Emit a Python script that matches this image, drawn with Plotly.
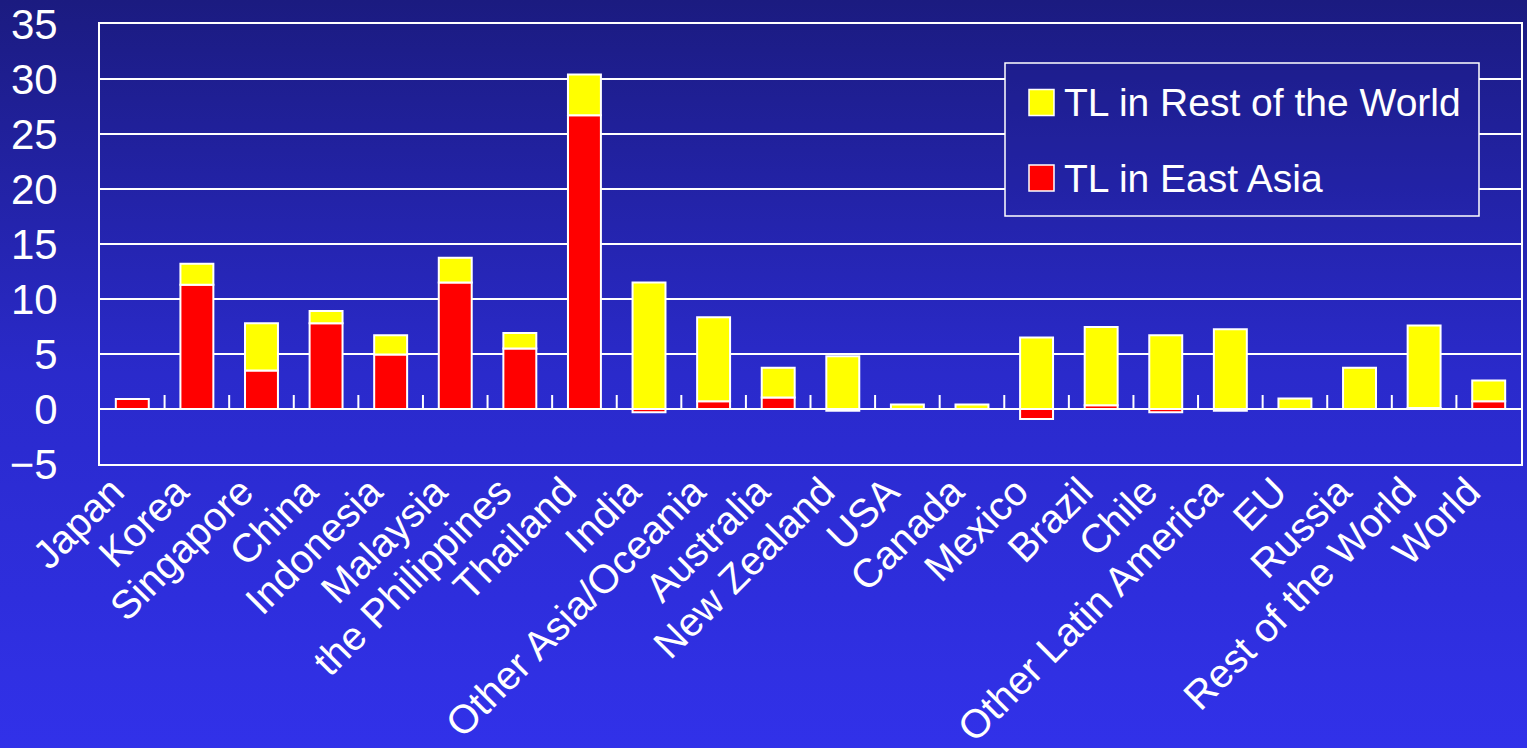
import base64
import plotly.graph_objects as go

# ---- data -------------------------------------------------------------
countries = [
    "Japan", "Korea", "Singapore", "China", "Indonesia", "Malaysia",
    "the Philippines", "Thailand", "India", "Other Asia/Oceania", "Australia",
    "New Zealand", "USA", "Canada", "Mexico", "Brazil", "Chile",
    "Other Latin America", "EU", "Russia", "Rest of the World", "World",
]
tl_east_asia = [0.9, 11.3, 3.5, 7.8, 4.95, 11.5, 5.5, 26.7, -0.3, 0.7, 1.05,
                -0.15, 0.0, 0.0, -0.9, 0.35, -0.3, -0.15, 0.0, 0.0, 0.1, 0.7]
tl_rest_world = [0.0, 1.9, 4.3, 1.1, 1.75, 2.25, 1.4, 3.7, 11.5, 7.65, 2.7,
                 4.8, 0.4, 0.4, 6.5, 7.1, 6.7, 7.25, 0.95, 3.75, 7.5, 1.9]
series_names = ["TL in Rest of the World", "TL in East Asia"]
y_ticks = [-5, 0, 5, 10, 15, 20, 25, 30, 35]

# ---- geometry / style -------------------------------------------------
W, H = 1527, 748
ML, MR, MT, MB = 100, 6, 24, 284
PW, PH = W - ML - MR, H - MT - MB
FONT = "Liberation Sans, Arial, Helvetica, sans-serif"
YELLOW, RED, WHITE = "#ffff00", "#ff0000", "#ffffff"
STOPS = [(0.0, (27, 27, 128)), (0.5, (42, 42, 203)), (1.0, (49, 49, 233))]


def px_x(p):
    return (p - ML) / PW


def px_y(p):
    return (H - MB - p) / PH


def color_at(f):
    for (o0, c0), (o1, c1) in zip(STOPS, STOPS[1:]):
        if o0 <= f <= o1:
            t = (f - o0) / (o1 - o0)
            return tuple(round(a + (b - a) * t) for a, b in zip(c0, c1))
    return STOPS[-1][1]


def gradient_uri(f_top, f_bot):
    stops = []
    for k in range(11):
        f = f_top + (f_bot - f_top) * k / 10
        r, g, b = color_at(f)
        stops.append(f'<stop offset="{k / 10:.2f}" stop-color="rgb({r},{g},{b})"/>')
    svg = ('<svg xmlns="http://www.w3.org/2000/svg" width="10" height="100" '
           'viewBox="0 0 10 100" preserveAspectRatio="none"><defs>'
           '<linearGradient id="g" x1="0" y1="0" x2="0" y2="1">'
           + "".join(stops) +
           '</linearGradient></defs><rect width="10" height="100" fill="url(#g)"/></svg>')
    return "data:image/svg+xml;base64," + base64.b64encode(svg.encode()).decode()


# ---- traces -----------------------------------------------------------
fig = go.Figure()
fig.add_trace(go.Bar(
    x=countries, y=tl_east_asia, name=series_names[1],
    marker=dict(color=RED, line=dict(color=WHITE, width=2)),
))
fig.add_trace(go.Bar(
    x=countries, y=tl_rest_world, name=series_names[0],
    marker=dict(color=YELLOW, line=dict(color=WHITE, width=2)),
))

# ---- background gradient + legend box fill ----------------------------
images = [
    dict(source=gradient_uri(0, 1), xref="paper", yref="paper",
         x=px_x(0), y=px_y(0), sizex=W / PW, sizey=H / PH,
         xanchor="left", yanchor="top", sizing="stretch", layer="below"),
]
LEG_X0, LEG_X1, LEG_Y0, LEG_Y1 = 1005, 1479, 63, 216
images.append(dict(
    source=gradient_uri(LEG_Y0 / H, LEG_Y1 / H), xref="paper", yref="paper",
    x=px_x(LEG_X0), y=px_y(LEG_Y0), sizex=(LEG_X1 - LEG_X0) / PW,
    sizey=(LEG_Y1 - LEG_Y0) / PH, xanchor="left", yanchor="top",
    sizing="stretch", layer="above"))

shapes = []
# small category-boundary ticks rising from the zero line
for i in range(len(countries) - 1):
    shapes.append(dict(type="line", xref="x", yref="y", ysizemode="pixel",
                       yanchor=0, x0=i + 0.5, x1=i + 0.5, y0=0, y1=14,
                       line=dict(color=WHITE, width=2), layer="above"))

# legend frame, swatches and labels
shapes.append(dict(type="rect", xref="paper", yref="paper",
                   x0=px_x(LEG_X0), x1=px_x(LEG_X1), y0=px_y(LEG_Y1), y1=px_y(LEG_Y0),
                   line=dict(color=WHITE, width=1.5), fillcolor="rgba(0,0,0,0)",
                   layer="above"))
annotations = []
for name, col, cy in [(series_names[0], YELLOW, 102.5), (series_names[1], RED, 178)]:
    shapes.append(dict(type="rect", xref="paper", yref="paper",
                       x0=px_x(1029), x1=px_x(1054), y0=px_y(cy + 13), y1=px_y(cy - 13),
                       fillcolor=col, line=dict(color=WHITE, width=1.5), layer="above"))
    annotations.append(dict(text=name, xref="paper", yref="paper",
                            x=px_x(1062), y=px_y(cy), xanchor="left", yanchor="middle",
                            showarrow=False, font=dict(family=FONT, size=39, color=WHITE)))

fig.update_layout(
    width=W, height=H, autosize=False,
    margin=dict(l=ML, r=MR, t=MT, b=MB, pad=0, autoexpand=False),
    paper_bgcolor="rgb(38,38,180)", plot_bgcolor="rgba(0,0,0,0)",
    barmode="relative", bargap=0.49, showlegend=False,
    font=dict(family=FONT, color=WHITE),
    images=images, shapes=shapes, annotations=annotations,
    xaxis=dict(
        type="category", range=[-0.5, len(countries) - 0.5],
        showline=True, linecolor=WHITE, linewidth=2, mirror=True,
        showgrid=False, ticks="", tickangle=-45, automargin=False,
        ticklabelstandoff=-14, ticklabelshift=-20,
        tickfont=dict(family=FONT, size=40, color=WHITE),
    ),
    yaxis=dict(
        range=[-5, 35], tickvals=y_ticks, automargin=False,
        showline=True, linecolor=WHITE, linewidth=2, mirror=True,
        showgrid=True, gridcolor=WHITE, gridwidth=1.5,
        zeroline=True, zerolinecolor=WHITE, zerolinewidth=2,
        ticks="", ticklabelstandoff=32,
        tickfont=dict(family=FONT, size=42, color=WHITE),
    ),
)

fig.write_html("out.html")
